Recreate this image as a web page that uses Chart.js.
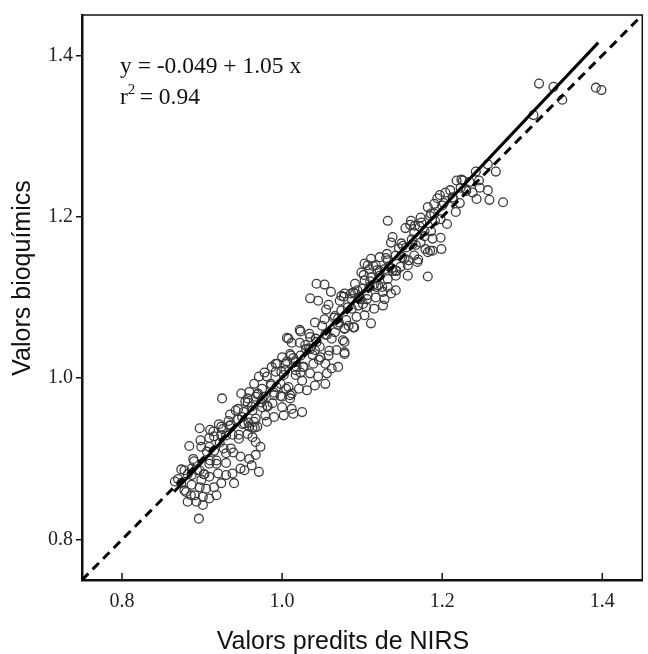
<!DOCTYPE html>
<html>
<head>
<meta charset="utf-8">
<script src="https://cdn.jsdelivr.net/npm/chart.js@4"></script>
<style>
  body { margin: 0; background: #fff; }
  #wrap { width: 648px; height: 654px; }
</style>
</head>
<body>
<div id="wrap"><canvas id="nirsChart" width="648" height="654"></canvas></div>
<script>
// tick values shared by both axes
var tickValues = [0.8, 1.0, 1.2, 1.4];
var axisRange = [0.75, 1.45];

// regression fit: y = a + b x, drawn over the span of the samples
var fitCoef = [-0.049, 1.05];
var fitSpan = [0.865, 1.395];

// samples [NIRS predicted, biochemical]
var cloudLow = [
  [0.897,0.938],[0.910,0.936],[0.924,0.940],[0.936,0.942],[0.953,0.944],[0.965,0.946],
  [0.884,0.916],[0.899,0.915],[0.909,0.926],[0.915,0.928],[0.924,0.929],[0.930,0.929],
  [0.946,0.925],[0.957,0.931],[0.963,0.927],
  [0.889,0.900],[0.887,0.888],[0.897,0.886],[0.909,0.894],[0.918,0.898],[0.930,0.907],
  [0.936,0.913],[0.948,0.903],[0.959,0.900],[0.967,0.905],
  [0.878,0.886],[0.887,0.880],[0.899,0.874],[0.909,0.878],[0.920,0.882],[0.930,0.880],
  [0.938,0.882],[0.948,0.888],[0.953,0.886],
  [0.866,0.872],[0.874,0.870],[0.887,0.868],[0.897,0.865],[0.905,0.863],[0.915,0.865],
  [0.924,0.870],[0.940,0.870],
  [0.880,0.859],[0.891,0.855],[0.901,0.853],[0.909,0.851],[0.918,0.855],
  [0.882,0.847],[0.893,0.847],[0.901,0.843],[0.896,0.826],
  [0.935,0.955],[0.945,0.962],[0.952,0.958],[0.957,0.970],[0.971,0.884],[0.962,0.892],[0.870,0.875],
  [0.925,0.975],[0.949,0.981]
];
var cloudMid = [
  [1.008,1.049],[1.012,1.044],[1.023,1.058],[1.035,1.051],[1.043,1.045],[1.056,1.054],
  [1.066,1.057],[1.078,1.045],[1.078,1.030],
  [1.000,1.026],[1.010,1.030],[1.023,1.028],[1.033,1.037],[1.041,1.035],[1.048,1.026],
  [1.058,1.028],[1.068,1.035],
  [0.992,1.018],[1.004,1.018],[1.017,1.020],[1.027,1.014],[1.039,1.018],[1.054,1.018],
  [1.062,1.012],[1.070,1.014],
  [0.971,1.002],[0.981,1.002],[0.992,1.008],[1.004,1.010],[1.017,1.004],[1.025,0.997],
  [1.035,1.006],[1.045,1.002],[1.056,1.006],[1.054,0.993],
  [0.965,0.993],[0.975,0.987],[0.986,0.991],[0.998,0.993],[1.008,0.989],[1.021,0.987],
  [1.031,0.985],[1.041,0.991],
  [0.959,0.983],[0.967,0.977],[0.977,0.977],[0.990,0.979],[1.000,0.977],[1.012,0.981],[1.010,0.975],
  [0.963,0.960],[0.975,0.964],[0.988,0.969],[1.000,0.964],[1.012,0.962],[1.025,0.958],
  [0.967,0.950],[0.979,0.954],[0.990,0.952],[1.002,0.954],[1.014,0.956],
  [0.959,0.940],[0.969,0.940],[0.981,0.946],[0.967,0.921],[0.973,0.915],
  [1.043,1.117],[1.053,1.116],[1.061,1.107],[1.045,1.096],[1.055,1.085],[1.035,1.099],
  [1.022,1.060],[1.006,1.050]
];
var cloudHigh = [
  [1.136,1.168],[1.151,1.164],[1.163,1.166],[1.173,1.168],[1.182,1.156],[1.188,1.158],[1.169,1.144],
  [1.103,1.142],[1.111,1.148],[1.122,1.150],[1.132,1.146],[1.142,1.152],[1.153,1.148],
  [1.157,1.140],[1.165,1.152],
  [1.099,1.131],[1.109,1.135],[1.117,1.140],[1.128,1.135],[1.138,1.133],[1.148,1.138],[1.157,1.127],
  [1.091,1.117],[1.103,1.121],[1.111,1.125],[1.122,1.127],[1.132,1.123],[1.142,1.127],[1.142,1.109],
  [1.078,1.105],[1.091,1.105],[1.101,1.111],[1.109,1.113],[1.120,1.115],[1.132,1.113],[1.136,1.105],
  [1.072,1.096],[1.087,1.098],[1.097,1.100],[1.107,1.103],[1.117,1.100],[1.128,1.098],[1.126,1.090],
  [1.074,1.084],[1.087,1.086],[1.095,1.090],[1.105,1.088],[1.115,1.086],
  [1.070,1.074],[1.080,1.072],[1.093,1.076],[1.103,1.078],[1.111,1.068],
  [1.078,1.061],[1.089,1.063],[1.076,1.047],[1.078,1.032],[1.182,1.126],
  [1.132,1.195],[1.165,1.180],[1.172,1.188],[1.178,1.176],[1.160,1.190]
];
var cloudTop = [
  [1.257,1.265],[1.267,1.256],[1.224,1.246],[1.204,1.230],[1.213,1.224],[1.223,1.236],[1.230,1.232],
  [1.247,1.236],[1.257,1.233],[1.243,1.222],[1.259,1.221],[1.276,1.218],[1.190,1.216],[1.200,1.214],
  [1.186,1.204],[1.217,1.206],[1.198,1.174],[1.199,1.160],[1.185,1.158],[1.188,1.173],
  [1.321,1.365],[1.339,1.361],[1.350,1.345],[1.314,1.326],[1.392,1.360],[1.399,1.357]
];
// the dense band along the fit line
var bandA = [
  [0.874,0.887],[0.878,0.861],[0.882,0.881],[0.886,0.855],[0.890,0.897],[0.894,0.886],
  [0.898,0.923],[0.902,0.881],[0.906,0.909],[0.910,0.898],[0.914,0.934],[0.918,0.894],
  [0.922,0.920],[0.926,0.937],[0.930,0.895],[0.934,0.941],[0.938,0.930],[0.942,0.960],
  [0.946,0.930],[0.950,0.952],[0.954,0.971],[0.958,0.945],[0.962,0.965],[0.966,0.939],
  [0.970,0.981],[0.974,0.970],[0.978,1.007],[0.982,0.965],[0.986,0.993],[0.990,0.982],
  [0.994,1.018],[0.998,0.978],[1.002,1.004],[1.006,1.021],[1.010,0.979],[1.014,1.025],
  [1.018,1.014],[1.022,1.044],[1.026,1.014],[1.030,1.036],[1.034,1.055],[1.038,1.029],
  [1.042,1.049],[1.046,1.023],[1.050,1.065],[1.054,1.054],[1.058,1.091],[1.062,1.049],
  [1.066,1.077],[1.070,1.066],[1.074,1.102],[1.078,1.062],[1.082,1.088],[1.086,1.105],
  [1.090,1.063],[1.094,1.109],[1.098,1.098],[1.102,1.128],[1.106,1.098],[1.110,1.120],
  [1.114,1.139],[1.118,1.113],[1.122,1.133],[1.126,1.107],[1.130,1.149],[1.134,1.138],
  [1.138,1.175],[1.142,1.133],[1.146,1.161],[1.150,1.150],[1.154,1.186],[1.158,1.146],
  [1.162,1.172],[1.166,1.189],[1.170,1.147],[1.174,1.193],[1.178,1.182],[1.182,1.212],
  [1.186,1.182],[1.190,1.204],[1.194,1.223],[1.198,1.197],[1.202,1.217],[1.206,1.191],
  [1.210,1.233],[1.214,1.222],[1.218,1.245],[1.222,1.217],[1.226,1.245],[1.230,1.234],
  [1.234,1.243],[1.238,1.230],[1.242,1.256],[1.246,1.245]
];
var bandB = [
  [0.903,0.881],[0.909,0.915],[0.915,0.910],[0.921,0.943],[0.927,0.913],[0.933,0.947],
  [0.939,0.908],[0.945,0.949],[0.951,0.943],[0.957,0.975],[0.963,0.939],[0.969,0.980],
  [0.975,0.974],[0.981,0.966],[0.987,1.014],[0.993,0.989],[0.999,1.008],[1.005,0.987],
  [1.011,1.028],[1.017,1.010],[1.023,1.007],[1.029,1.041],[1.035,1.036],[1.041,1.069],
  [1.047,1.039],[1.053,1.073],[1.059,1.034],[1.065,1.075],[1.071,1.069],[1.077,1.101],
  [1.083,1.065],[1.089,1.106],[1.095,1.100],[1.101,1.092],[1.107,1.140],[1.113,1.115],
  [1.119,1.134],[1.125,1.113],[1.131,1.154],[1.137,1.136],[1.143,1.133],[1.149,1.167],
  [1.155,1.162],[1.161,1.195],[1.167,1.165],[1.173,1.199],[1.179,1.160],[1.185,1.201],
  [1.191,1.195],[1.197,1.227]
];

var samples = cloudLow.concat(cloudMid, cloudHigh, cloudTop, bandA, bandB).map(function (p) {
  return { x: p[0], y: p[1] };
});
var fitLine = fitSpan.map(function (x) { return { x: x, y: fitCoef[0] + fitCoef[1] * x }; });
var idLine = axisRange.map(function (v) { return { x: v, y: v }; });

var serif = "'Liberation Serif', 'Times New Roman', serif";
var sans = "'Liberation Sans', Arial, sans-serif";

// frame, inward x ticks, axis titles, equation
var decor = {
  id: "decor",
  afterDraw: function (chart) {
    var ctx = chart.ctx, a = chart.chartArea, xs = chart.scales.x;
    ctx.save();
    ctx.strokeStyle = "#111";
    ctx.lineWidth = 1.5;
    ctx.beginPath();
    ctx.moveTo(a.left, a.top); ctx.lineTo(a.right, a.top); ctx.lineTo(a.right, a.bottom);
    ctx.stroke();
    tickValues.forEach(function (v) {
      var px = xs.getPixelForValue(v);
      ctx.beginPath(); ctx.moveTo(px, a.bottom); ctx.lineTo(px, a.bottom - 7); ctx.stroke();
    });

    ctx.fillStyle = "#111";
    ctx.font = "25px " + sans;
    ctx.textAlign = "center";
    ctx.textBaseline = "middle";
    ctx.fillText("Valors predits de NIRS", 343, 642);
    ctx.translate(23, 278);
    ctx.rotate(-Math.PI / 2);
    ctx.fillText("Valors bioquímics", 0, 0);
    ctx.setTransform(1, 0, 0, 1, 0, 0);

    ctx.font = "23.5px " + serif;
    ctx.textAlign = "left";
    ctx.textBaseline = "alphabetic";
    var tx = a.left + 38;
    ctx.fillText("y = -0.049 + 1.05 x", tx, 73);
    ctx.fillText("r", tx, 104);
    var rw = ctx.measureText("r").width;
    ctx.font = "15px " + serif;
    ctx.fillText("2", tx + rw, 94);
    ctx.font = "23.5px " + serif;
    ctx.fillText(" = 0.94", tx + rw + 6, 104);
    ctx.restore();
  }
};

var chart = new Chart(document.getElementById("nirsChart").getContext("2d"), {
  type: "scatter",
  data: {
    datasets: [
      {
        label: "mostres",
        data: samples,
        pointRadius: 4.4,
        pointBorderWidth: 1.3,
        borderColor: "#3a3a3a",
        backgroundColor: "rgba(0,0,0,0)",
        order: 3
      },
      {
        label: "ajust",
        type: "line",
        data: fitLine,
        borderColor: "#000",
        borderWidth: 3,
        pointRadius: 0,
        order: 1
      },
      {
        label: "y = x",
        type: "line",
        data: idLine,
        borderColor: "#000",
        borderWidth: 3,
        borderDash: [9, 6],
        pointRadius: 0,
        order: 2
      }
    ]
  },
  options: {
    responsive: false,
    animation: false,
    devicePixelRatio: 1,
    layout: { padding: { top: 14, right: 1, left: 0, bottom: 0 } },
    plugins: { legend: { display: false }, tooltip: { enabled: false } },
    scales: {
      x: {
        type: "linear",
        min: axisRange[0],
        max: axisRange[1],
        afterBuildTicks: function (s) { s.ticks = tickValues.map(function (v) { return { value: v }; }); },
        afterFit: function (s) { s.height = 74; },
        grid: { display: true, drawOnChartArea: false, drawTicks: false },
        border: { display: true, color: "#111", width: 2.5 },
        ticks: {
          padding: 10,
          color: "#222",
          font: { family: serif, size: 20 },
          callback: function (v) { return Number(v).toFixed(1); }
        }
      },
      y: {
        type: "linear",
        min: axisRange[0],
        max: axisRange[1],
        afterBuildTicks: function (s) { s.ticks = tickValues.map(function (v) { return { value: v }; }); },
        afterFit: function (s) { s.width = 82; },
        grid: { display: true, drawOnChartArea: false, drawTicks: true, tickLength: 6, color: "#111", lineWidth: 1.5 },
        border: { display: true, color: "#111", width: 2.5 },
        ticks: {
          padding: 3,
          color: "#222",
          font: { family: serif, size: 20 },
          callback: function (v) { return Number(v).toFixed(1); }
        }
      }
    }
  },
  plugins: [decor]
});
</script>
</body>
</html>
